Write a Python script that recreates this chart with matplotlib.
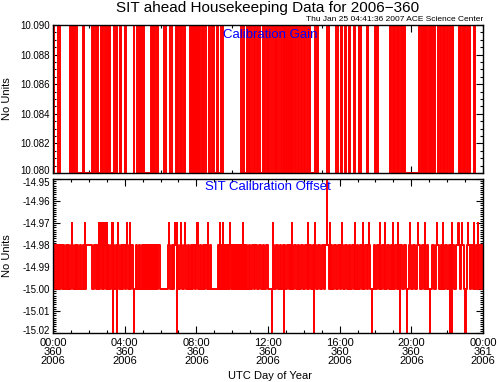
import numpy as np
import matplotlib
matplotlib.use("Agg")
import matplotlib.pyplot as plt
import matplotlib.transforms as mtransforms
from matplotlib.ticker import MultipleLocator, FormatStrFormatter

# ---------------- data (hours of day 2006-360) ----------------
gain_levels = [10.090, 10.080]
gain_toggle_h = [
    0.02, 0.06, 0.3, 0.37, 0.95, 1.0, 1.05, 1.1, 1.18, 1.25, 1.32, 1.7, 1.72, 2.2, 2.25, 2.3,
    2.4, 2.45, 2.5, 2.68, 2.75, 2.8, 2.9, 2.95, 3.0, 3.05, 3.1, 3.15, 3.2, 3.42, 3.5, 3.58,
    3.72, 3.78, 4.02, 4.08, 4.5, 4.54, 4.7, 4.78, 4.85, 4.9, 4.98, 5.05, 5.1, 5.45, 5.5, 5.58,
    5.65, 5.72, 5.8, 5.88, 6.2, 6.28, 6.55, 6.62, 6.86, 6.93, 7.0, 7.07, 7.15, 7.2, 7.32, 7.38,
    7.65, 7.7, 7.75, 7.8, 7.85, 7.9, 7.95, 8.0, 8.05, 8.1, 8.15, 8.2, 8.3, 8.38, 8.45, 8.55,
    8.7, 8.78, 8.85, 8.92, 9.0, 9.15, 9.22, 9.35, 9.42, 9.5, 10.5, 10.58, 10.65, 10.8, 10.88,
    10.95, 11.02, 11.1, 11.2, 11.3, 11.38, 11.45, 11.55, 11.7, 11.78, 11.85, 11.92, 12.0,
    12.08, 12.15, 12.3, 12.38, 12.45, 12.52, 12.6, 12.7, 12.8, 12.88, 12.92, 12.97, 13.02,
    13.07, 13.12, 13.17, 13.22, 13.28, 13.34, 13.4, 13.5, 13.58, 13.66, 13.75, 13.82, 13.9,
    14.0, 14.08, 14.2, 14.28, 14.35, 14.65, 14.72, 14.8, 15.32, 15.42, 15.8, 15.88, 16.05,
    16.13, 16.3, 16.38, 16.5, 16.58, 16.8, 16.88, 17.1, 17.18, 17.5, 17.58, 17.95, 18.02,
    18.08, 18.14, 18.8, 18.88, 18.95, 19.02, 19.1, 19.18, 19.25, 19.32, 19.4, 19.48, 19.55,
    19.6, 19.63, 20.45, 20.52, 20.6, 20.66, 20.72, 20.78, 20.84, 20.9, 20.96, 21.02, 21.08,
    21.14, 21.2, 21.26, 21.3, 21.5, 21.58, 21.66, 21.74, 21.82, 21.9, 21.98, 22.06, 22.14,
    22.22, 22.3, 22.35, 22.65, 22.72, 22.8, 22.88, 22.95, 23.02, 23.1, 23.18, 23.25, 23.3,
    23.5, 23.58,
]

offset_levels = [-14.98, -15.00]
offset_toggle_h = [
    0.05, 0.12, 0.2, 0.26, 0.33, 0.4, 0.48, 0.55, 0.62, 0.7, 0.78, 0.85, 0.92, 1.0, 1.12, 1.2,
    1.28, 1.35, 1.42, 1.5, 1.58, 1.65, 1.72, 1.85,
    2.2, 2.3, 2.38, 2.45, 2.52, 2.62, 2.72, 2.85, 2.95, 3.08, 3.15, 3.22, 3.42, 3.5, 3.7, 3.78,
    3.85, 3.92, 4.0, 4.08, 4.2, 4.38, 4.45, 4.62, 4.7, 4.8, 4.88, 4.95, 5.0, 5.05, 5.1, 5.15,
    5.2, 5.25, 5.3, 5.35, 5.4, 5.45, 5.5, 5.55, 5.6, 5.65, 5.7, 5.75, 5.8, 5.88, 5.95,
    6.4, 6.55, 6.62, 6.7, 6.78, 7.0, 7.08, 7.22, 7.3, 7.45, 7.52, 7.6, 7.68, 7.75, 7.82, 7.9,
    7.97, 8.12, 8.2, 8.28, 8.35, 8.42, 8.5, 8.58, 8.75, 8.82,
    9.2, 9.28, 9.4, 9.45, 9.55, 9.6, 9.65, 9.7, 9.75, 9.8, 9.85, 9.95, 10.0, 10.05, 10.1, 10.15,
    10.2, 10.25, 10.3, 10.35, 10.4, 10.45, 10.5, 10.55, 10.65, 10.7, 10.78, 10.85, 10.92, 11.0,
    11.1, 11.2, 11.3, 11.4, 11.5, 11.6, 11.7, 11.8, 11.9, 11.98,
    12.28, 12.35, 12.45, 12.55, 12.65, 12.75, 12.85, 12.95, 13.05, 13.15, 13.25, 13.3, 13.45,
    13.55, 13.65, 13.75, 13.85, 13.95, 14.05, 14.15, 14.3, 14.4, 14.5, 14.7, 14.8, 14.9, 15.0,
    15.1, 15.2, 15.4, 15.5, 15.6, 15.7, 15.8, 15.9, 16.0, 16.08, 16.2, 16.3, 16.4, 16.5, 16.6,
    16.7, 16.8, 16.95, 17.05, 17.15, 17.22, 17.4, 17.5, 17.58, 17.7, 17.9, 18.0, 18.1, 18.2,
    18.35, 18.45, 18.65, 18.75, 18.85, 18.92, 19.1, 19.2, 19.3, 19.5, 19.6, 19.7, 19.85, 20.0,
    20.1, 20.2, 20.3, 20.5, 20.6, 20.7, 20.85, 20.95, 21.15, 21.25, 21.35, 21.55, 21.65, 21.7,
    21.9, 22.0, 22.1, 22.4, 22.5, 22.7, 22.75, 22.95, 23.1, 23.25, 23.35, 23.45, 23.6, 23.7,
    23.8, 23.9, 23.95,
]
offset_up_h = [1.06, 1.79, 2.57, 2.68, 2.79, 2.9, 3.02, 3.3, 3.35, 3.63, 4.13, 4.3, 6.48, 6.82,
               6.93, 7.15, 7.37, 8.04, 8.1, 8.66, 9.33, 9.5, 9.89, 10.6, 12.3, 13.35, 14.25,
               14.64, 15.47, 16.15, 16.87, 17.3, 17.65, 18.27, 18.55, 19.0, 19.27, 19.94, 20.39,
               20.78, 21.45, 21.79, 22.29, 22.63, 22.85, 23.18, 23.52, 23.74]
offset_up_level = -14.97
offset_down_h = [3.35, 3.58, 4.53, 6.93, 12.23, 12.9, 14.58, 17.82, 19.39, 19.78, 21.06, 22.18,
                 22.29, 23.02]
offset_down_level = -15.02
offset_peak_h = [15.3]
offset_peak_level = -14.95

x_major_h = [0, 4, 8, 12, 16, 20, 24]
day0 = 360
year = 2006

# ---------------- build series ----------------
def toggle_series(toggles, levels, t_end=24.0):
    t = [0.0]
    v = [levels[0]]
    for i, tt in enumerate(toggles):
        t.append(tt)
        v.append(levels[(i + 1) % 2])
    t.append(t_end)
    v.append(v[-1])
    return np.array(t), np.array(v)

gt, gv = toggle_series(gain_toggle_h, gain_levels)
bt, bv = toggle_series(offset_toggle_h, offset_levels)

spikes = [(s, offset_up_level) for s in offset_up_h] + \
         [(s, offset_down_level) for s in offset_down_h] + \
         [(s, offset_peak_level) for s in offset_peak_h]
ot = list(bt)
ov = list(bv)
for s, lev in spikes:
    idx = np.searchsorted(bt, s, side="right") - 1
    base = bv[max(idx, 0)]
    ot += [s, s + 0.004]
    ov += [lev, base]
order = np.argsort(np.array(ot), kind="stable")
ot = np.array(ot)[order]
ov = np.array(ov)[order]

# ---------------- figure ----------------
plt.rcParams["font.family"] = ["Liberation Sans", "DejaVu Sans"]
fig = plt.figure(figsize=(4.97, 3.82), dpi=100)
fig.patch.set_facecolor("white")

L, W = 53 / 497, 430 / 497
ax1 = fig.add_axes([L, 1 - 173 / 382, W, 148 / 382])
ax2 = fig.add_axes([L, 1 - 333 / 382, W, 154 / 382])

red = "#ff0000"
ax1.plot(gt, gv, drawstyle="steps-post", color=red, lw=1.4)
ax2.plot(ot, ov, drawstyle="steps-post", color=red, lw=1.4)

for ax in (ax1, ax2):
    ax.set_xlim(0, 24)
    ax.set_xticks(x_major_h)
    ax.xaxis.set_minor_locator(MultipleLocator(1))
    ax.tick_params(which="both", direction="in", top=True, right=True, labelsize=7,
                   colors="black", pad=2)
    ax.tick_params(which="major", length=5, width=0.8)
    ax.tick_params(which="minor", length=2.5, width=0.8)
    for sp in ax.spines.values():
        sp.set_linewidth(1.0)
    ax.set_ylabel("No Units", fontsize=8)
    ax.yaxis.set_label_coords(-41 / 430, 0.5)

ax1.set_ylim(10.080, 10.090)
ax1.yaxis.set_major_locator(MultipleLocator(0.002))
ax1.yaxis.set_minor_locator(MultipleLocator(0.0005))
ax1.yaxis.set_major_formatter(FormatStrFormatter("%.3f"))
ax1.set_xticklabels([])

ax2.set_ylim(-15.02, -14.95)
ax2.yaxis.set_major_locator(MultipleLocator(0.01))
ax2.yaxis.set_minor_locator(MultipleLocator(0.001))
ax2.yaxis.set_major_formatter(FormatStrFormatter("%.2f"))
ax2.set_xticklabels([f"{h % 24:02d}:00\n{day0 + h // 24}\n{year}" for h in x_major_h],
                    linespacing=0.9, fontsize=8)
ax2.tick_params(axis="x", pad=3.5)

# nudge the labels that sit at the shared panel boundary so they do not collide
fig.canvas.draw()
up = mtransforms.ScaledTranslation(0, 2 / 72, fig.dpi_scale_trans)
down = mtransforms.ScaledTranslation(0, -2 / 72, fig.dpi_scale_trans)
lab1 = ax1.get_yticklabels()
lab2 = ax2.get_yticklabels()
for t in lab1:
    if t.get_text().endswith("10.080"):
        t.set_transform(t.get_transform() + up)
for t in lab2:
    if t.get_text().endswith("14.95"):
        t.set_transform(t.get_transform() + down)
    if t.get_text().endswith("15.02"):
        t.set_transform(t.get_transform() + up)

fig.text(270 / 497, 1 - 376 / 382, "UTC Day of Year", ha="center", va="center", fontsize=8)

ax1.text(0.505, 0.93, "Calibration Gain", transform=ax1.transAxes, ha="center",
         va="center", color="#0000ff", fontsize=9.5)
ax2.text(0.5, 0.95, "SIT Calibration Offset", transform=ax2.transAxes, ha="center",
         va="center", color="#0000ff", fontsize=9.5)

fig.text(268 / 497, 1 - 8 / 382, "SIT ahead Housekeeping Data for 2006\u2212360",
         ha="center", va="center", fontsize=11)
fig.text(483 / 497, 1 - 19.5 / 382, "Thu Jan 25 04:41:36 2007 ACE Science Center",
         ha="right", va="center", fontsize=6)

fig.savefig("out.png", dpi=100, facecolor="white")
